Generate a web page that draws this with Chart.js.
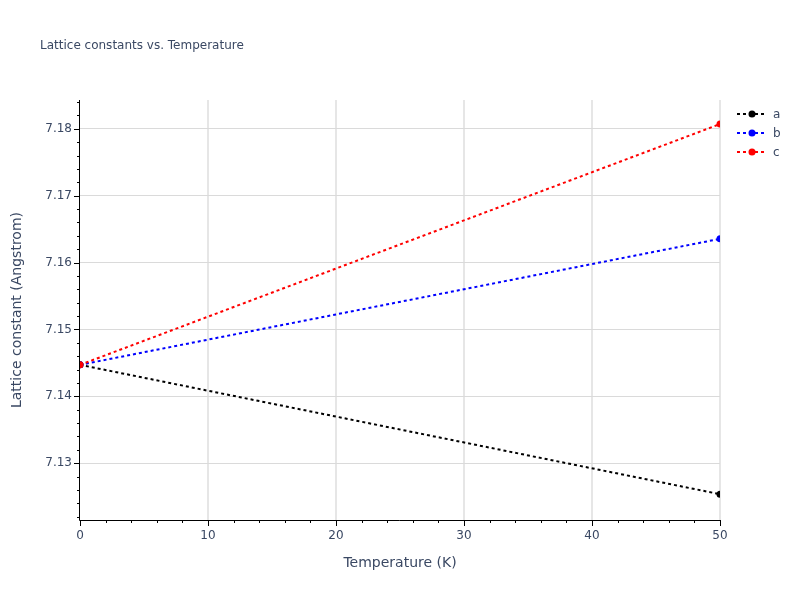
<!DOCTYPE html>
<html>
<head>
<meta charset="utf-8">
<script src="https://cdn.jsdelivr.net/npm/chart.js@4"></script>
<style>
  html, body { margin: 0; padding: 0; background: #fff; }
  #wrap { width: 800px; height: 600px; }
</style>
</head>
<body>
<div id="wrap"><canvas id="chart" width="800" height="600"></canvas></div>
<script>
// --- data ---
const temps = [0, 50];
const latticeA = [7.14470, 7.12536];
const latticeB = [7.14470, 7.16354];
const latticeC = [7.14470, 7.18070];
const seriesNames = ['a', 'b', 'c'];
const seriesColors = ['#000000', '#0000ff', '#ff0000'];
const xTicks = [0, 10, 20, 30, 40, 50];
const yTicks = [7.13, 7.14, 7.15, 7.16, 7.17, 7.18];

const TXT = '#3a4863';
const FONT = '"DejaVu Sans", Verdana, sans-serif';

function pts(ys) {
    return temps.map((t, i) => ({ x: t, y: ys[i] }));
}

function mkSet(i, ys) {
    return {
        label: seriesNames[i],
        data: pts(ys),
        order: 2 - i, // later traces on top, like the reference
        borderColor: seriesColors[i],
        backgroundColor: seriesColors[i],
        borderWidth: 2,
        borderDash: [3, 3],
        pointRadius: 3.5,
        pointBorderWidth: 0,
        pointHoverRadius: 3.5,
        tension: 0
    };
}

// axis lines, ticks (major + minor), titles and legend
const decor = {
    id: 'decor',
    beforeDatasetsDraw(chart) {
        const { ctx, chartArea: a, scales: { x, y } } = chart;
        ctx.save();
        ctx.strokeStyle = '#000';
        ctx.lineWidth = 1;
        // y ticks
        for (let v = 7.122; v <= 7.1843; v += 0.002) {
            const vv = Math.round(v * 1000) / 1000;
            const py = Math.round(y.getPixelForValue(vv)) + 0.5;
            const major = Math.abs(vv * 100 - Math.round(vv * 100)) < 1e-6;
            ctx.beginPath();
            ctx.moveTo(a.left - (major ? 6 : 3), py);
            ctx.lineTo(a.left, py);
            ctx.stroke();
        }
        // x ticks
        for (let v = 0; v <= 50; v += 2) {
            const px = Math.round(x.getPixelForValue(v)) + 0.5;
            const major = v % 10 === 0;
            ctx.beginPath();
            ctx.moveTo(px, a.bottom);
            ctx.lineTo(px, a.bottom + (major ? 6 : 3));
            ctx.stroke();
        }
        // axis lines
        ctx.beginPath();
        ctx.moveTo(a.left - 0.5, a.top);
        ctx.lineTo(a.left - 0.5, a.bottom + 0.5);
        ctx.lineTo(a.right, a.bottom + 0.5);
        ctx.stroke();
        ctx.restore();
    },
    afterDraw(chart) {
        const { ctx, chartArea: a } = chart;
        ctx.save();
        ctx.fillStyle = TXT;
        // title
        ctx.font = '12px ' + FONT;
        ctx.textAlign = 'left';
        ctx.textBaseline = 'middle';
        ctx.fillText('Lattice constants vs. Temperature', 40, 46);
        // x title
        ctx.font = '14px ' + FONT;
        ctx.textAlign = 'center';
        ctx.fillText('Temperature (K)', (a.left + a.right) / 2, 563);
        // y title
        ctx.save();
        ctx.translate(17, (a.top + a.bottom) / 2);
        ctx.rotate(-Math.PI / 2);
        ctx.fillText('Lattice constant (Angstrom)', 0, 0);
        ctx.restore();
        // legend
        ctx.font = '12px ' + FONT;
        ctx.textAlign = 'left';
        seriesNames.forEach((n, i) => {
            const ly = 114 + i * 19;
            ctx.strokeStyle = seriesColors[i];
            ctx.fillStyle = seriesColors[i];
            ctx.lineWidth = 2;
            ctx.setLineDash([3, 3]);
            ctx.beginPath();
            ctx.moveTo(737, ly);
            ctx.lineTo(767, ly);
            ctx.stroke();
            ctx.setLineDash([]);
            ctx.beginPath();
            ctx.arc(752, ly, 3.5, 0, Math.PI * 2);
            ctx.fill();
            ctx.fillStyle = TXT;
            ctx.fillText(n, 773, ly + 1);
        });
        ctx.restore();
    }
};

new Chart(document.getElementById('chart'), {
    type: 'line',
    data: {
        datasets: [mkSet(0, latticeA), mkSet(1, latticeB), mkSet(2, latticeC)]
    },
    options: {
        responsive: false,
        animation: false,
        layout: { padding: { top: 100, right: 80, left: 0, bottom: 0 } },
        plugins: { legend: { display: false }, tooltip: { enabled: false } },
        scales: {
            x: {
                type: 'linear',
                min: 0,
                max: 50,
                afterBuildTicks: s => { s.ticks = xTicks.map(v => ({ value: v })); },
                afterFit: s => { s.height = 80; },
                border: { display: false },
                grid: {
                    drawTicks: false,
                    lineWidth: 2,
                    color: ctx => ctx.tick && ctx.tick.value === 0 ? 'rgba(0,0,0,0)' : '#e6e6e6'
                },
                ticks: { color: TXT, font: { family: FONT, size: 12 }, padding: 9, maxRotation: 0 }
            },
            y: {
                type: 'linear',
                min: 7.1215,
                max: 7.1843,
                afterBuildTicks: s => { s.ticks = yTicks.map(v => ({ value: v })); },
                afterFit: s => { s.width = 80; },
                border: { display: false },
                grid: { drawTicks: false, color: '#dadada' },
                ticks: {
                    color: TXT,
                    font: { family: FONT, size: 12 },
                    padding: 8,
                    callback: v => v.toFixed(2)
                }
            }
        }
    },
    plugins: [decor]
});
</script>
</body>
</html>
